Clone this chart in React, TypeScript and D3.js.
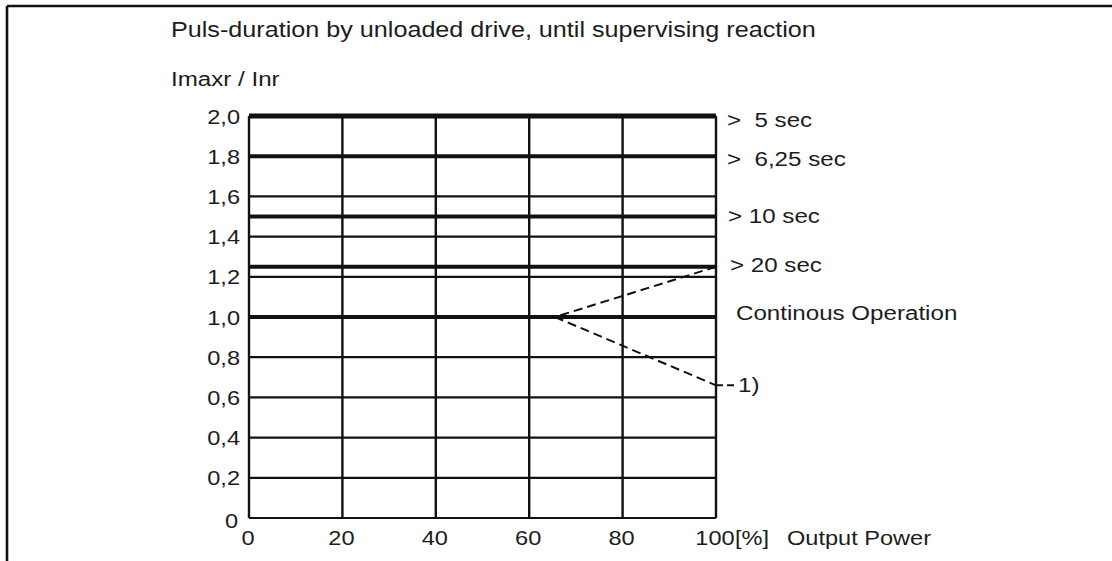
import React from "react";
import * as d3 from "d3";

const yTicks = [0, 0.2, 0.4, 0.6, 0.8, 1.0, 1.2, 1.4, 1.6, 1.8, 2.0];
const yTickLabels = ["0", "0,2", "0,4", "0,6", "0,8", "1,0", "1,2", "1,4", "1,6", "1,8", "2,0"];
const xTicks = [0, 20, 40, 60, 80, 100];
const xTickLabels = ["0", "20", "40", "60", "80", "100"];
const levelValues = [2.0, 1.8, 1.5, 1.25, 1.0];
const levelLabels = [">  5 sec", ">  6,25 sec", "> 10 sec", "> 20 sec", "Continous Operation"];
const upperDash = [
  { x: 100, y: 1.25 },
  { x: 65.5, y: 1.0 },
];
const lowerDash = [
  { x: 65.5, y: 1.0 },
  { x: 100, y: 0.66 },
];

const W = 1112;
const H = 561;
const SX = 1.15;
const FONT = "'Liberation Sans', Arial, Helvetica, sans-serif";
const TXT = "#1c1c1c";
const LINE = "#111";

const x = d3.scaleLinear().domain([0, 100]).range([249, 716]);
const y = d3.scaleLinear().domain([0, 2]).range([518, 116]);

function T({ x: px, y: py, size = 20.5, anchor = "start", children }: any) {
  return (
    <text
      transform={`translate(${px},${py}) scale(${SX},1)`}
      fontSize={size}
      fontFamily={FONT}
      fill={TXT}
      textAnchor={anchor}
      style={{ whiteSpace: "pre" }}
    >
      {children}
    </text>
  );
}

export default function App() {
  const line = d3
    .line<{ x: number; y: number }>()
    .x((d) => x(d.x))
    .y((d) => y(d.y));
  const labelDy = [11, 10, 6, 5, 3];
  const labelX = [727, 727, 728, 730, 736];
  const endLow = lowerDash[lowerDash.length - 1];
  return (
    <svg
      width={W}
      height={H}
      style={{ position: "absolute", left: 0, top: 0, background: "#fff" }}
    >
      <rect x={0} y={0} width={W} height={H} fill="#fff" />
      {/* frame */}
      <line x1={7} y1={6} x2={W} y2={6} stroke={LINE} strokeWidth={2.6} />
      <line x1={7} y1={6} x2={7} y2={H} stroke={LINE} strokeWidth={2.6} />

      <T x={171} y={37} size={21.9}>Puls-duration by unloaded drive, until supervising reaction</T>
      <T x={171} y={86} size={21}>Imaxr / Inr</T>

      {/* horizontal grid lines */}
      {yTicks.map((v) => (
        <line key={"h" + v} x1={x(0)} x2={x(100)} y1={y(v)} y2={y(v)} stroke={LINE} strokeWidth={2.2} />
      ))}
      {/* vertical grid lines */}
      {xTicks.map((v) => (
        <line key={"v" + v} x1={x(v)} x2={x(v)} y1={y(2)} y2={y(0)} stroke={LINE} strokeWidth={2.4} />
      ))}
      {/* thick level lines */}
      {levelValues.map((v) => (
        <line
          key={"l" + v}
          x1={x(0)}
          x2={x(100)}
          y1={y(v)}
          y2={y(v)}
          stroke={LINE}
          strokeWidth={v === 2 ? 5 : 4}
        />
      ))}

      {/* dashed annotation */}
      <path d={line(upperDash) || ""} fill="none" stroke={LINE} strokeWidth={2} strokeDasharray="9,5" />
      <path d={line(lowerDash) || ""} fill="none" stroke={LINE} strokeWidth={2} strokeDasharray="9,5" />
      <line x1={x(100)} x2={x(100) + 21} y1={y(endLow.y)} y2={y(endLow.y)} stroke={LINE} strokeWidth={2} strokeDasharray="7,4" />
      <T x={738} y={y(endLow.y) + 7} size={21}>1)</T>

      {/* level labels */}
      {levelLabels.map((s, i) => (
        <T key={"ll" + i} x={labelX[i]} y={y(levelValues[i]) + labelDy[i]} size={21}>
          {s}
        </T>
      ))}

      {/* y tick labels */}
      {yTicks.map((v, i) =>
        v === 0 ? (
          <T key={"yt" + i} x={238} y={528} anchor="end">{yTickLabels[i]}</T>
        ) : (
          <T key={"yt" + i} x={240} y={y(v) + 7.5} anchor="end">{yTickLabels[i]}</T>
        )
      )}
      {/* x tick labels */}
      {xTicks.map((v, i) => (
        <T key={"xt" + i} x={x(v) - 1} y={545} anchor="middle">{xTickLabels[i]}</T>
      ))}
      <T x={735} y={545}>[%]</T>
      <T x={787} y={545}>Output Power</T>
    </svg>
  );
}
